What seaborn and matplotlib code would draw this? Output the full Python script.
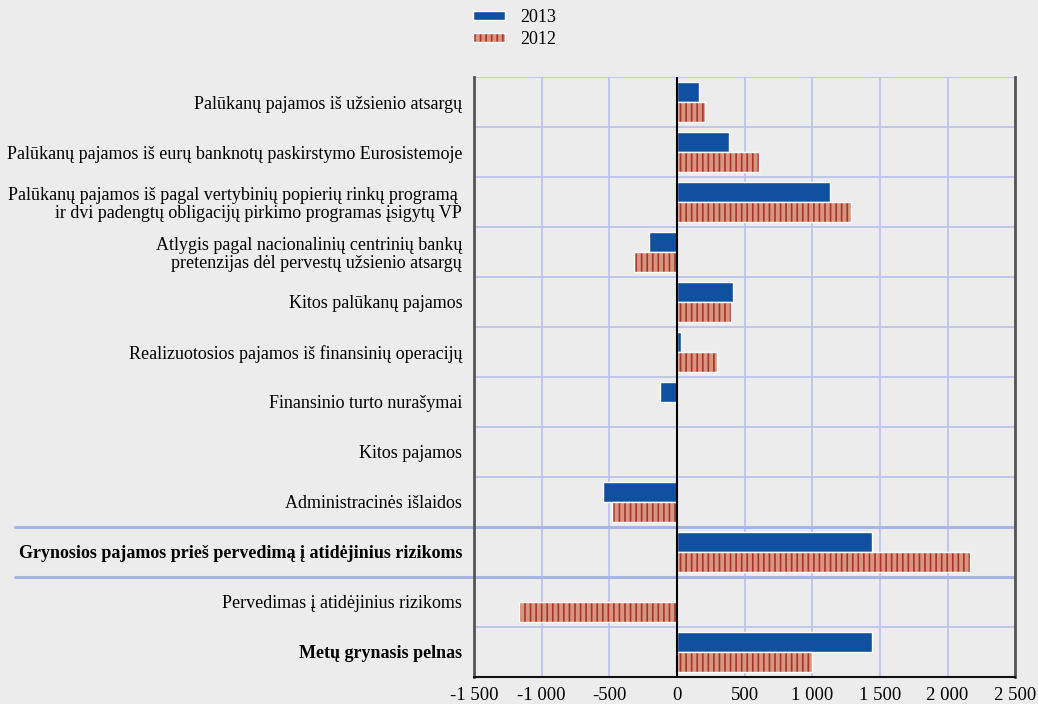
import matplotlib
matplotlib.use("Agg")
import matplotlib.pyplot as plt
import matplotlib.transforms as mtransforms
from matplotlib.patches import Patch, Rectangle
from matplotlib.legend_handler import HandlerTuple
import pandas as pd
import seaborn as sns

items = [
    "Palūkanų pajamos iš užsienio atsargų",
    "Palūkanų pajamos iš eurų banknotų paskirstymo Eurosistemoje",
    "Palūkanų pajamos iš pagal vertybinių popierių rinkų programą \nir dvi padengtų obligacijų pirkimo programas įsigytų VP",
    "Atlygis pagal nacionalinių centrinių bankų\npretenzijas dėl pervestų užsienio atsargų",
    "Kitos palūkanų pajamos",
    "Realizuotosios pajamos iš finansinių operacijų",
    "Finansinio turto nurašymai",
    "Kitos pajamos",
    "Administracinės išlaidos",
    "Grynosios pajamos prieš pervedimą į atidėjinius rizikoms",
    "Pervedimas į atidėjinius rizikoms",
    "Metų grynasis pelnas",
]
bold_items = [9, 11]
values_2013 = [165, 382, 1135, -203, 412, 32, -127, 0, -545, 1440, -8, 1440]
values_2012 = [205, 605, 1290, -314, 398, 299, 0, 0, -483, 2164, -1166, 998]
years = ["2013", "2012"]
xticks = [-1500, -1000, -500, 0, 500, 1000, 1500, 2000, 2500]
xtick_labels = ["-1 500", "-1 000", "-500", "0", "500", "1 000", "1 500", "2 000", "2 500"]

blue = "#1050a0"
salmon = "#d8957f"
stripe = "#a8342a"
bg = "#ececec"
grid_c = "#bcc4ea"

df = pd.DataFrame({
    "item": items * 2,
    "value": values_2013 + values_2012,
    "year": ["2013"] * len(items) + ["2012"] * len(items),
})

sns.set_style("white", {"axes.facecolor": bg, "figure.facecolor": bg})
plt.rcParams["font.family"] = ["Liberation Serif", "DejaVu Serif"]
plt.rcParams["text.color"] = "black"
plt.rcParams["xtick.color"] = "black"
plt.rcParams["ytick.color"] = "black"
plt.rcParams["hatch.linewidth"] = 1.2

fig = plt.figure(figsize=(10.38, 7.04), dpi=100)
ax = fig.add_axes([0.4566, 0.0384, 0.978 - 0.4566, 0.8906 - 0.0384])

sns.barplot(data=df, y="item", x="value", hue="year", hue_order=years,
            palette=[blue, salmon], width=0.8, orient="h", saturation=1,
            edgecolor="white", linewidth=1, legend=False, ax=ax, zorder=3)

# striped fill for 2012 bars, white outline on top
for bar in ax.containers[1]:
    bar.set_hatch("|||")
    bar.set_edgecolor(stripe)
    bar.set_linewidth(0)
    ax.add_patch(Rectangle(bar.get_xy(), bar.get_width(), bar.get_height(),
                           facecolor="none", edgecolor="white", lw=1, zorder=4))

ax.set_xlim(-1500, 2500)
ax.set_ylim(len(items) - 0.5, -0.5)
ax.set_xticks(xticks)
ax.set_xticklabels(xtick_labels, fontsize=13.5)
ax.set_xlabel("")
ax.set_ylabel("")

ax.set_yticks(range(len(items)))
ax.set_yticklabels(items, fontsize=13, ha="right", linespacing=1.05)
for i, lab in enumerate(ax.get_yticklabels()):
    if i in bold_items:
        lab.set_fontweight("bold")
ax.set_yticks([k + 0.5 for k in range(-1, len(items))], minor=True)
ax.tick_params(axis="y", which="major", length=0, pad=8.5)
ax.tick_params(axis="y", which="minor", length=4, width=1.5, color="#222222", direction="out")
ax.tick_params(axis="x", length=5, width=1.2, color="#222222", direction="out", pad=2)

# grid
ax.grid(axis="x", which="major", color=grid_c, lw=1.3, zorder=0)
ax.grid(axis="y", which="minor", color=grid_c, lw=1.3, zorder=0)
ax.set_axisbelow(True)

# thicker separators reaching into the label area
trans = mtransforms.blended_transform_factory(ax.transAxes, ax.transData)
for yb in [8.5, 9.5]:
    ax.plot([-0.848, 0.997], [yb, yb], transform=trans, color="#a8b4e4",
            lw=2.2, clip_on=False, zorder=1)

ax.axvline(0, color="black", lw=1.5, zorder=5)

for side in ["left", "right", "bottom"]:
    ax.spines[side].set_visible(True)
    ax.spines[side].set_color("#555555")
    ax.spines[side].set_linewidth(2)
ax.spines["bottom"].set_color("#111111")
ax.spines["bottom"].set_linewidth(1.5)
ax.spines["top"].set_visible(False)

h2013 = Patch(facecolor=blue, edgecolor="white", lw=1)
h2012 = (Patch(facecolor=salmon, edgecolor=stripe, hatch="|||", lw=0),
         Patch(facecolor="none", edgecolor="white", lw=1))
fig.legend([h2013, h2012], years, loc="upper left", bbox_to_anchor=(0.4557, 0.987),
           frameon=False, fontsize=13, handlelength=1.75, handleheight=0.42,
           handletextpad=0.85, labelspacing=0.25, borderpad=0, borderaxespad=0,
           handler_map={tuple: HandlerTuple(ndivide=1)})

fig.savefig("out.png", dpi=100, facecolor=bg)
